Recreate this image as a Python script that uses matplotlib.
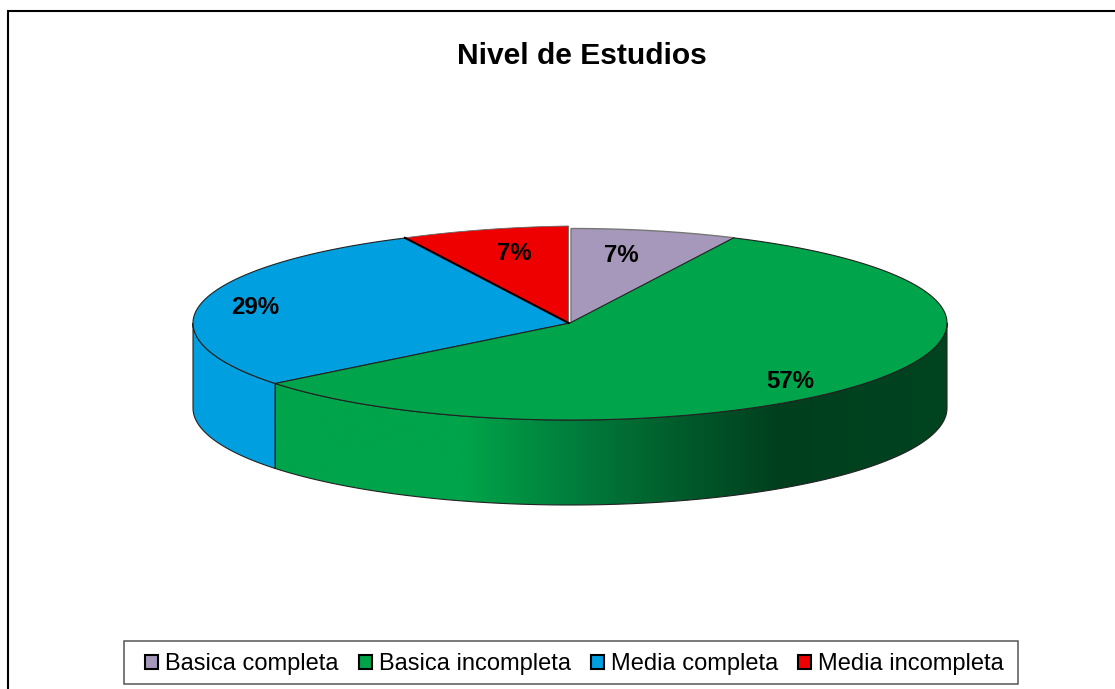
"""Nivel de Estudios: 3D-look pie drawn on a pixel-sized axes."""
import matplotlib
matplotlib.use("Agg")
import matplotlib.pyplot as plt
import numpy as np
from matplotlib.colors import LinearSegmentedColormap
from matplotlib.patches import Patch, Polygon, Rectangle

plt.rcParams["font.family"] = ["Liberation Sans", "DejaVu Sans"]

categories = ["Basica completa", "Basica incompleta", "Media completa", "Media incompleta"]
counts = [1, 8, 4, 1]
pct_labels = ["7%", "57%", "29%", "7%"]
colors = ["#A698BA", "#00A44A", "#00A0E0", "#EE0000"]
label_pos = [(621, 255), (790, 381), (255, 307), (514, 253)]

CX, CY, RX, RY, RY_BACK, DEPTH = 570, 323, 377, 97, 94.5, 85


def rim(t0, t1, dy=0, n=200, back=RY_BACK):
    """Points on the rim, angle in degrees clockwise from the top.

    The back half is a little flatter than the front, as in the original render.
    back may be an array so one slice can lean out of the ellipse.
    """
    t = np.radians(np.linspace(t0, t1, n))
    c = np.cos(t)
    r = np.where(c > 0, back, RY)
    return np.column_stack([CX + RX * np.sin(t), CY + dy - r * c])


def draw_wall(ax, t0, t1, cmap):
    """Side wall between t0 and t1, filled by a horizontal gradient clipped to its outline."""
    pts = np.vstack([rim(t0, t1), rim(t1, t0, DEPTH)])
    poly = Polygon(pts, closed=True, facecolor="none", edgecolor="#222222", lw=0.8, zorder=2)
    ax.add_patch(poly)
    grad = np.linspace(0, 1, 512).reshape(1, -1)
    im = ax.imshow(grad, cmap=cmap, vmin=0, vmax=1, aspect="auto", zorder=1,
                   extent=[CX - RX, CX + RX, CY + RY + DEPTH, CY - RY])
    im.set_clip_path(poly)


fig = plt.figure(figsize=(11.15, 6.89), dpi=100)
ax = fig.add_axes([0, 0, 1, 1])

fracs = np.cumsum([0] + counts) / sum(counts) * 360

# walls: only the front half of the rim (90..270 degrees) is visible
green_wall = LinearSegmentedColormap.from_list("green_wall", [
    (0.0, "#00A44A"), (0.36, "#00A44A"), (0.51, "#007C3B"), (0.66, "#00582A"),
    (0.78, "#003F1E"), (1.0, "#004420")])
blue_wall = LinearSegmentedColormap.from_list("blue_wall", ["#00A0E0", "#00A0E0"])
wall_maps = [None, green_wall, blue_wall, None]
for i, cmap in enumerate(wall_maps):
    t0, t1 = max(fracs[i], 90), min(fracs[i + 1], 270)
    if cmap is not None and t1 > t0:
        draw_wall(ax, t0, t1, cmap)

# top face; the red slice rises to the full radius at its top corner
edge_cols = ["#777777", "#222222", "#222222", "#666666"]
edge_w = [1.0, 0.8, 0.8, 0.6]
shift_x = [1.0, 0, 0, -1.5]
for i, col in enumerate(colors):
    back = np.linspace(RY_BACK, RY, 200) if i == 3 else RY_BACK
    pts = np.vstack([[CX, CY], rim(fracs[i], fracs[i + 1], back=back)])
    pts[:, 0] += shift_x[i]
    ax.add_patch(Polygon(pts, closed=True, facecolor=col, edgecolor=edge_cols[i],
                         lw=edge_w[i], joinstyle="miter", zorder=3 + (i == 1)))
    if i == 3:
        # heavy black spoke between the blue and red slices
        ax.plot(pts[:2, 0], pts[:2, 1], color="black", lw=1.5, zorder=4)

for (x, y), txt in zip(label_pos, pct_labels):
    ax.text(x, y, txt, ha="center", va="center", fontsize=17.3, fontweight="bold", zorder=5)

ax.text(582, 56, "Nivel de Estudios", ha="center", va="center", fontsize=21.6, fontweight="bold")

# outer frame, open at the image edges
ax.plot([8, 8, 1115], [689, 11, 11], color="black", lw=1.5, solid_joinstyle="miter")

ax.set_xlim(0, 1115)
ax.set_ylim(689, 0)
ax.axis("off")

ax.add_patch(Rectangle((123.5, 641), 894.5, 43, facecolor="white", edgecolor="#555555", lw=1.1))
handles = [Patch(facecolor=c, edgecolor="black", lw=1.5) for c in colors]
leg = ax.legend(handles, categories, ncol=4, loc="center",
                bbox_to_anchor=(574.5, 664), bbox_transform=ax.transData,
                fontsize=17.0, frameon=False, handlelength=0.55, handleheight=0.55,
                handletextpad=0.3, columnspacing=0.84, borderpad=0, labelspacing=0)

fig.savefig("out.png", dpi=100)
plt.close(fig)
